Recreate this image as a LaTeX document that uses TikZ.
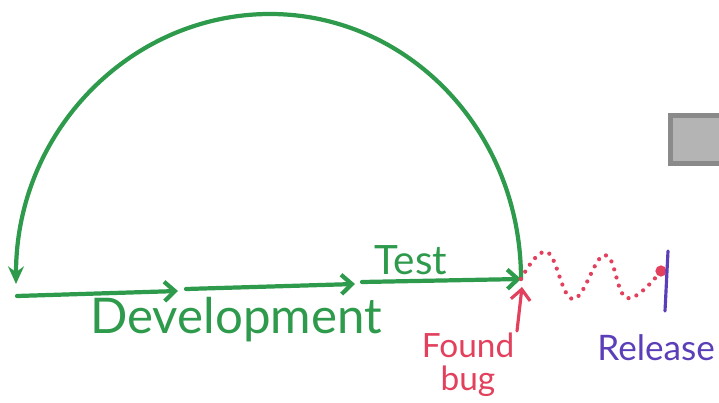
\documentclass[tikz,border=0pt]{standalone}
\usepackage{fontspec}
\setmainfont{Lato}
\usetikzlibrary{arrows.meta}
\definecolor{marker}{HTML}{2E9A4C}
\definecolor{bugred}{HTML}{E2405C}
\definecolor{relpurple}{HTML}{5B3FB8}
\definecolor{boxedge}{HTML}{8A8A8A}
\definecolor{boxfill}{HTML}{B4B4B4}
\begin{document}
\begin{tikzpicture}[x=0.02cm,y=-0.02cm,
  flow/.style={draw=marker,line width=2.4pt,line cap=round},
  barb/.style={-{Straight Barb[length=6pt,width=11pt]}},
  every node/.style={inner sep=0pt}]
\useasboundingbox (0,0) rectangle (719,402);
% points on the time line
\coordinate (start) at (17,296);
\coordinate (dev1) at (178,291);
\coordinate (dev2) at (186,289);
\coordinate (test1) at (355,284);
\coordinate (test2) at (362,282);
\coordinate (bug) at (521,279);
\coordinate (bughead) at (522,287);
\coordinate (back) at (16,284);
\coordinate (rdot) at (661,271);
\coordinate (bugtail) at (517,331);
\coordinate (reltop) at (668,251);
\coordinate (relbot) at (665,311);
% labels
\node[marker,font=\fontsize{28}{30}\selectfont] (dev) at (236,320) {Development};
\node[marker,font=\fontsize{23}{25}\selectfont] (test) at (411,260) {Test};
\node[bugred,align=center,font=\fontsize{19}{19}\selectfont] (found) at (468,365) {Found\\bug};
\node[relpurple,font=\fontsize{20}{22}\selectfont,anchor=west] (release) at (597,348) {Release};
% development and test
\draw[flow,barb] (start) -- (dev1);
\draw[flow,barb] (dev2) -- (test1);
\draw[flow,barb] (test2) -- (bug);
% back to the start
\draw[flow,-{Stealth[length=10pt,width=9pt]}] (bug) .. controls (521,131) and (408,14) .. (270,14)
  .. controls (131,14) and (16,131) .. (back);
% bug fixing until release
\draw[bugred,line width=2.4pt,line cap=round,dash pattern=on 0pt off 4.8pt]
  plot[smooth,tension=0.7] coordinates {(bug) (547,252) (573,299) (605,255) (627,298) (rdot)};
\fill[bugred] (rdot) circle (3.2pt);
\draw[bugred,line width=1.8pt,line cap=round,barb] (bugtail) -- (bughead);
\draw[relpurple,line width=1.8pt,line cap=round] (reltop) -- (relbot);
% side panel
\draw[draw=boxedge,fill=boxfill,line width=0.1cm] (670.5,115.5) rectangle (740,163.5);
\end{tikzpicture}
\end{document}
